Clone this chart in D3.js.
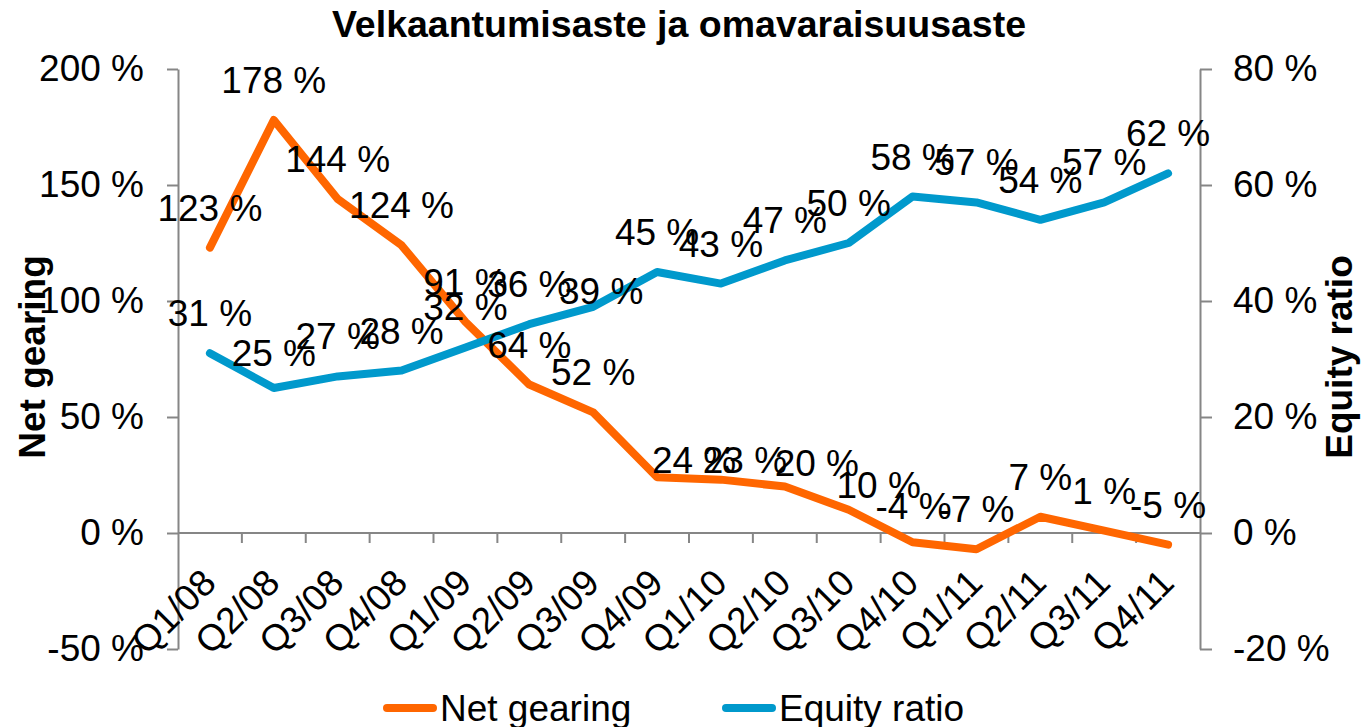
<!DOCTYPE html>
<html>
<head>
<meta charset="utf-8">
<script src="https://cdn.jsdelivr.net/npm/d3@7"></script>
<style>
  body { margin: 0; background: #fff; }
  svg { font-family: "Liberation Sans", Arial, sans-serif; }
</style>
</head>
<body>
<div id="chart"></div>
<script>
var quarters = ["Q1/08", "Q2/08", "Q3/08", "Q4/08", "Q1/09", "Q2/09", "Q3/09", "Q4/09",
  "Q1/10", "Q2/10", "Q3/10", "Q4/10", "Q1/11", "Q2/11", "Q3/11", "Q4/11"];
var netGearing = [123, 178, 144, 124, 91, 64, 52, 24, 23, 20, 10, -4, -7, 7, 1, -5];
var equityRatio = [31, 25, 27, 28, 32, 36, 39, 45, 43, 47, 50, 58, 57, 54, 57, 62];
var leftTicks = [-50, 0, 50, 100, 150, 200];
var rightTicks = [-20, 0, 20, 40, 60, 80];

var width = 1363, height = 727;
var axisColor = '#868686';
var orange = '#FF6600', blue = '#0099CC';

// labels that were dragged off their default spot in the original (index: [dx, dy])
var nudgeNet = { 7: [37, 23], 8: [24, 20], 9: [32, 16], 10: [30, 15], 11: [1, 4] };
var nudgeEq = { 1: [0, 5], 6: [8, 24] };

var svg = d3.select('#chart').append('svg')
  .attr('width', width)
  .attr('height', height);

var x = d3.scaleBand().domain(quarters).range([178, 1200]);
var yL = d3.scaleLinear().domain([-50, 200]).range([649, 69]);
var yR = d3.scaleLinear().domain([-20, 80]).range([649, 69]);

function pct(d) { return d + ' %'; }

// title
svg.append('text')
  .attr('x', 679).attr('y', 37)
  .attr('text-anchor', 'middle')
  .style('font-weight', 'bold')
  .style('font-size', '37.5px')
  .text('Velkaantumisaste ja omavaraisuusaste');

// left axis
var gL = svg.append('g')
  .attr('transform', 'translate(178,0)')
  .call(d3.axisLeft(yL).tickValues(leftTicks).tickFormat(pct).tickSize(11).tickSizeOuter(0).tickPadding(23));

// right axis
var gR = svg.append('g')
  .attr('transform', 'translate(1200,0)')
  .call(d3.axisRight(yR).tickValues(rightTicks).tickFormat(pct).tickSize(12).tickSizeOuter(0).tickPadding(21));

[gL, gR].forEach(function (g) {
  g.selectAll('path, line').attr('stroke', axisColor).attr('stroke-width', 2);
  g.selectAll('text').style('font-size', '37px').attr('fill', '#000')
    .style('font-family', '"Liberation Sans", Arial, sans-serif');
});

// category axis on the zero line
var y0 = yL(0);
var gX = svg.append('g');
gX.append('line')
  .attr('x1', 178).attr('x2', 1200)
  .attr('y1', y0).attr('y2', y0)
  .attr('stroke', axisColor).attr('stroke-width', 2);
gX.selectAll('.tick')
  .data(quarters.slice(1))
  .enter().append('line')
  .attr('x1', function (d) { return x(d); })
  .attr('x2', function (d) { return x(d); })
  .attr('y1', y0).attr('y2', y0 + 10)
  .attr('stroke', axisColor).attr('stroke-width', 2);
gX.selectAll('.qlabel')
  .data(quarters)
  .enter().append('text')
  .attr('class', 'qlabel')
  .attr('text-anchor', 'end')
  .style('font-size', '37px')
  .attr('transform', function (d) {
    var cx = x(d) + x.bandwidth() / 2 + 8;
    return 'translate(' + cx + ',585) rotate(-45)';
  })
  .text(function (d) { return d; });

// axis titles
svg.append('text')
  .attr('transform', 'translate(45,357) rotate(-90)')
  .attr('text-anchor', 'middle')
  .style('font-weight', 'bold').style('font-size', '37px')
  .text('Net gearing');
svg.append('text')
  .attr('transform', 'translate(1352,357) rotate(-90)')
  .attr('text-anchor', 'middle')
  .style('font-weight', 'bold').style('font-size', '37px')
  .text('Equity ratio');

// lines
function cx(i) { return x(quarters[i]) + x.bandwidth() / 2; }

var lineL = d3.line()
  .x(function (d, i) { return cx(i); })
  .y(function (d) { return yL(d); });
var lineR = d3.line()
  .x(function (d, i) { return cx(i); })
  .y(function (d) { return yR(d); });

svg.append('path')
  .datum(netGearing)
  .attr('d', lineL)
  .attr('fill', 'none').attr('stroke', orange)
  .attr('stroke-width', 8).attr('stroke-linecap', 'round').attr('stroke-linejoin', 'round');
svg.append('path')
  .datum(equityRatio)
  .attr('d', lineR)
  .attr('fill', 'none').attr('stroke', blue)
  .attr('stroke-width', 8).attr('stroke-linecap', 'round').attr('stroke-linejoin', 'round');

// data labels
function addLabels(values, yScale, nudge) {
  svg.append('g').selectAll('text')
    .data(values)
    .enter().append('text')
    .attr('x', function (d, i) { return cx(i) + (nudge[i] ? nudge[i][0] : 0); })
    .attr('y', function (d, i) { return yScale(d) - 27 + (nudge[i] ? nudge[i][1] : 0); })
    .attr('text-anchor', 'middle')
    .style('font-size', '37px')
    .text(pct);
}
addLabels(netGearing, yL, nudgeNet);
addLabels(equityRatio, yR, nudgeEq);

// legend
var legend = [
  { name: 'Net gearing', color: orange, x: 383 },
  { name: 'Equity ratio', color: blue, x: 722 }
];
var lg = svg.append('g').selectAll('g')
  .data(legend)
  .enter().append('g')
  .attr('transform', function (d) { return 'translate(' + d.x + ',708)'; });
lg.append('line')
  .attr('x1', 4).attr('x2', 50)
  .attr('stroke', function (d) { return d.color; })
  .attr('stroke-width', 8).attr('stroke-linecap', 'round');
lg.append('text')
  .attr('x', 57).attr('y', 13)
  .style('font-size', '37px')
  .text(function (d) { return d.name; });
</script>
</body>
</html>
